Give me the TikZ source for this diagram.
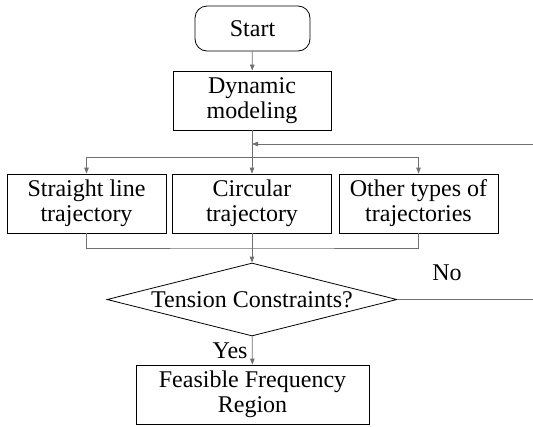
\documentclass[tikz,border=0pt]{standalone}
\usepackage{fontspec}
\setmainfont{Liberation Serif}
\usetikzlibrary{shapes.geometric,arrows.meta}
\definecolor{flowgray}{RGB}{112,112,112}

\begin{document}
\begin{tikzpicture}[x=1pt,y=-1pt,
  box/.style={draw,line width=0.8pt,inner sep=0pt,align=center,minimum width=159pt,minimum height=59pt},
  ln/.style={draw=flowgray,line width=0.8pt},
  arr/.style={ln,-{Triangle[length=6pt,width=4.5pt]}},
  every node/.style={font=\fontsize{24}{25}\selectfont}]
\useasboundingbox (0,0) rectangle (533,426);
\node[box,rounded corners=12pt,minimum width=115pt,minimum height=45pt] (start) at (252.5,28.5) {Start};
\node[box,minimum width=158pt] (dyn) at (252,100.5) {Dynamic\\modeling};
\node[box] (st) at (86.5,203.5) {Straight line\\trajectory};
\node[box] (circ) at (252,203.5) {Circular\\trajectory};
\node[box] (ot) at (418.5,203.5) {Other types of\\trajectories};
\node[draw,diamond,aspect=4,line width=0.8pt,inner sep=0pt,minimum width=290pt,minimum height=73pt] (dia) at (252,299.5) {Tension Constraints?};
\node[box,minimum width=233pt] (feas) at (252.5,394.5) {Feasible Frequency\\Region};
\coordinate (split) at (252,157);
\coordinate (merge) at (252,248);
\coordinate (fbA) at (535,299.5);
\coordinate (fbB) at (535,144);
\coordinate (fbC) at (252,144);
\draw[arr] (start) -- (dyn);
\draw[arr] (dyn) -- (circ);
\draw[arr] (split) -| (st);
\draw[arr] (split) -| (ot);
\draw[ln] (st) |- (merge) -| (ot);
\draw[arr] (circ) -- (dia);
\draw[arr] (dia) -- (fbA) -- (fbB) -- (fbC);
\node (no) at (447,273) {No};
\draw[arr] (dia) -- node[left,xshift=-1pt] (yes) {Yes} (feas);
\end{tikzpicture}
\end{document}
